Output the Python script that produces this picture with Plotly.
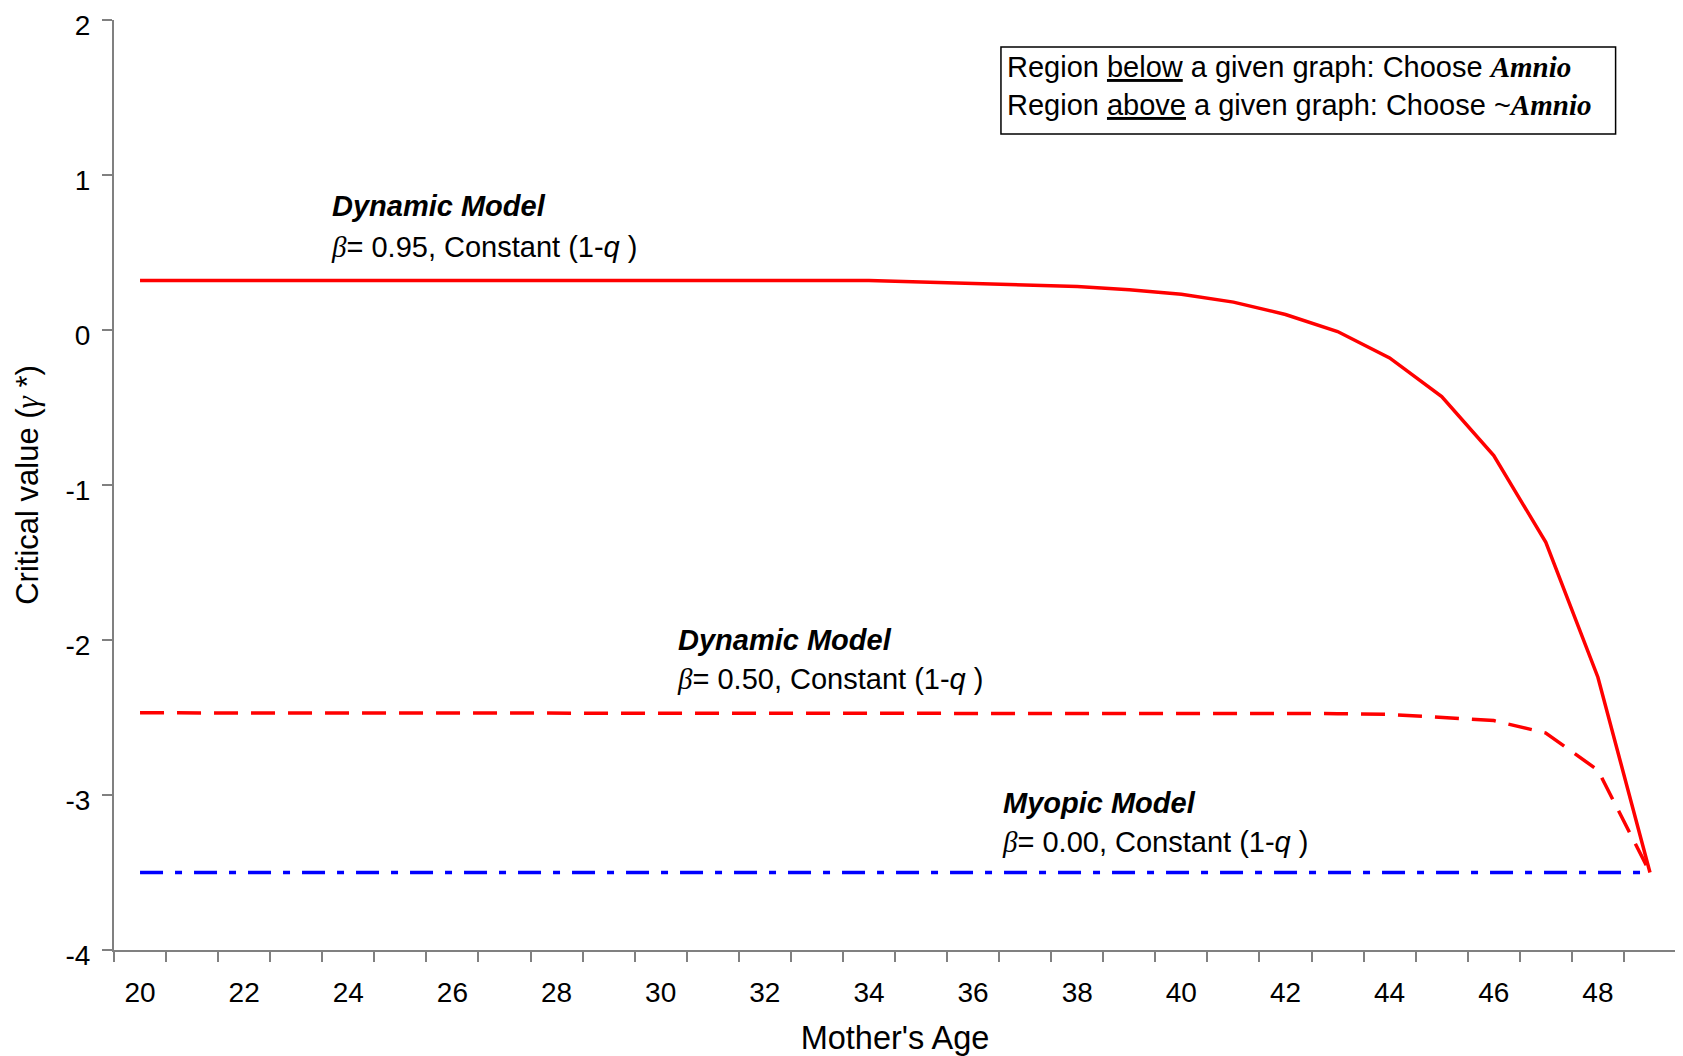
import plotly.graph_objects as go

# ---------------- data ----------------
ages = [20, 21, 22, 23, 24, 25, 26, 27, 28, 29,
        30, 31, 32, 33, 34, 35, 36, 37, 38, 39,
        40, 41, 42, 43, 44, 45, 46, 47, 48, 49]

beta_095 = [0.32, 0.32, 0.32, 0.32, 0.32, 0.32, 0.32, 0.32, 0.32, 0.32,
            0.32, 0.32, 0.32, 0.32, 0.32, 0.31, 0.30, 0.29, 0.28, 0.26,
            0.23, 0.18, 0.10, -0.01, -0.18, -0.43, -0.81, -1.37, -2.24, -3.50]

beta_050 = [-2.47, -2.47, -2.47, -2.47, -2.47, -2.47, -2.47, -2.47, -2.47, -2.47,
            -2.47, -2.47, -2.47, -2.47, -2.47, -2.47, -2.47, -2.47, -2.47, -2.47,
            -2.47, -2.47, -2.47, -2.475, -2.48, -2.50, -2.52, -2.60, -2.84, -3.50]

beta_000 = [-3.50, -3.50, -3.50, -3.50, -3.50, -3.50, -3.50, -3.50, -3.50, -3.50,
            -3.50, -3.50, -3.50, -3.50, -3.50, -3.50, -3.50, -3.50, -3.50, -3.50,
            -3.50, -3.50, -3.50, -3.50, -3.50, -3.50, -3.50, -3.50, -3.50, -3.50]

x_tick_ages = [20, 22, 24, 26, 28, 30, 32, 34, 36, 38, 40, 42, 44, 46, 48]
y_tick_vals = [-4, -3, -2, -1, 0, 1, 2]
y_tick_text = ["-4", "-3", "-2", "-1", "0", "1", "2"]

# ---------------- styling ----------------
SANS = "Liberation Sans"
SERIF = "Liberation Serif"
AXIS_GREY = "#808080"
FS = 28      # tick labels
FA = 29      # annotation text

fig = go.Figure()
fig.add_trace(go.Scatter(x=ages, y=beta_095, mode="lines",
                         line=dict(color="#FF0000", width=3.5), showlegend=False))
fig.add_trace(go.Scatter(x=ages, y=beta_050, mode="lines",
                         line=dict(color="#FF0000", width=3.5, dash="24px,13px"), showlegend=False))
fig.add_trace(go.Scatter(x=ages, y=beta_000, mode="lines",
                         line=dict(color="#0000FF", width=3.5, dash="23px,12px,7px,12px"), showlegend=False))

beta = f"<span style=\"font-family:'{SERIF}'\"><i>β</i></span>"


def label(x, y, text):
    fig.add_annotation(x=x, y=y, xref="x", yref="y", text=text, showarrow=False,
                       xanchor="left", yanchor="middle", align="left",
                       font=dict(family=SANS, size=FA, color="black"))


label(23.65, 0.80, "<b><i>Dynamic Model</i></b>")
label(23.62, 0.535, beta + "= 0.95, Constant (1-<i>q</i> )")
label(30.30, -2.00, "<b><i>Dynamic Model</i></b>")
label(30.28, -2.25, beta + "= 0.50, Constant (1-<i>q</i> )")
label(36.53, -3.05, "<b><i>Myopic Model</i></b>")
label(36.51, -3.30, beta + "= 0.00, Constant (1-<i>q</i> )")

# note box (frame + two text lines)
fig.add_shape(type="rect", xref="x", yref="y", x0=36.535, x1=48.34, y0=1.265, y1=1.826,
              line=dict(color="black", width=1.5), fillcolor="white", layer="above")
amnio = f"<span style=\"font-family:'{SERIF}'\"><b><i>Amnio</i></b></span>"
label(36.62, 1.700, "Region <u>below</u> a given graph: Choose " + amnio)
label(36.62, 1.450, "Region <u>above</u> a given graph: Choose ~" + amnio)

fig.update_layout(
    width=1675, height=1048,
    margin=dict(l=106, r=7, t=12, b=106, autoexpand=False),
    paper_bgcolor="white", plot_bgcolor="white",
    font=dict(family=SANS, color="black"),
    xaxis=dict(
        automargin=False, ticklabeloverflow="allow",
        range=[19.5, 49.5], tickmode="array", tickvals=x_tick_ages,
        ticks="", showgrid=False, zeroline=False,
        showline=True, linecolor=AXIS_GREY, linewidth=2,
        tickfont=dict(family=SANS, size=FS, color="black"),
        ticklabelstandoff=16,
        minor=dict(tick0=19.5, dtick=1, ticks="outside", ticklen=10,
                   tickcolor=AXIS_GREY, tickwidth=1.5, showgrid=False),
        title=dict(text="Mother's Age", font=dict(family=SANS, size=32.5, color="black"),
                   standoff=21),
    ),
    yaxis=dict(
        automargin=False, ticklabeloverflow="allow",
        range=[-4, 2], tickmode="array", tickvals=y_tick_vals, ticktext=y_tick_text,
        ticks="outside", ticklen=10, tickcolor=AXIS_GREY, tickwidth=1.5,
        showgrid=False, zeroline=False,
        showline=True, linecolor=AXIS_GREY, linewidth=2,
        tickfont=dict(family=SANS, size=FS, color="black"),
        ticklabelstandoff=6, ticklabelshift=5,
        title=dict(text=f"Critical value (<span style=\"font-family:'{SERIF}'\"><i>γ</i></span> *)",
                   font=dict(family=SANS, size=31, color="black"), standoff=18),
    ),
)

fig.write_html("out.html")
